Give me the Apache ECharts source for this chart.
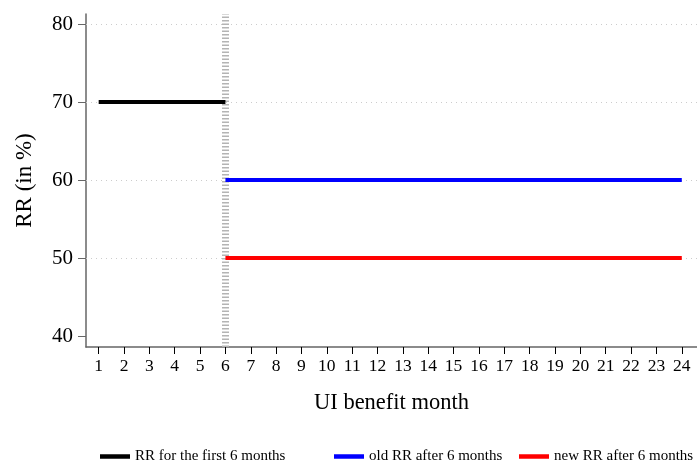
<!DOCTYPE html>
<html><head><meta charset="utf-8">
<script src="https://cdn.jsdelivr.net/npm/echarts@6/dist/echarts.min.js"></script>
<style>html,body{margin:0;padding:0;background:#fff}#c{width:697px;height:467px}</style>
</head><body><div id="c"></div>
<script>
const monthsFirst = [1,2,3,4,5,6];
const rrFirst = [70,70,70,70,70,70];
const monthsAfter = [6,7,8,9,10,11,12,13,14,15,16,17,18,19,20,21,22,23,24];
const rrOld = [60,60,60,60,60,60,60,60,60,60,60,60,60,60,60,60,60,60,60];
const rrNew = [50,50,50,50,50,50,50,50,50,50,50,50,50,50,50,50,50,50,50];
const xTicks = [1,2,3,4,5,6,7,8,9,10,11,12,13,14,15,16,17,18,19,20,21,22,23,24];
const yTicks = [40,50,60,70,80];
const gridVals = [50,60,70,80];
const cutoff = 6;

const font = '"Liberation Serif","DejaVu Serif",serif';
const pair = (xs, ys) => xs.map((x,i)=>[x, ys[i]]);
const legText = {fontFamily:font, fontSize:15, color:'#000'};
const legCommon = {top:449, padding:0, icon:'rect', itemWidth:30, itemHeight:4.5, itemGap:8, textStyle:legText};

const chart = echarts.init(document.getElementById('c'));
chart.setOption({
  animation:false,
  grid:{left:86, top:14, right:0, bottom:120},
  xAxis:{type:'value', min:0.5, max:24.6,
    name:'UI benefit month', nameLocation:'middle', nameGap:45,
    nameTextStyle:{fontFamily:font, fontSize:22.5, color:'#000'},
    axisLine:{show:true, onZero:false, lineStyle:{color:'#666', width:1.5}},
    axisTick:{show:true, length:7, customValues:xTicks, lineStyle:{color:'#000', width:1}},
    axisLabel:{customValues:xTicks, fontFamily:font, fontSize:17.5, color:'#000', margin:10},
    splitLine:{show:false}},
  yAxis:{type:'value', min:38.6, max:81.3,
    name:'RR (in %)', nameLocation:'middle', nameGap:50, nameRotate:90,
    nameTextStyle:{fontFamily:font, fontSize:23, color:'#000'},
    axisLine:{show:true, lineStyle:{color:'#666', width:1.5}},
    axisTick:{show:true, length:8, customValues:yTicks, lineStyle:{color:'#666', width:1}},
    axisLabel:{customValues:yTicks, fontFamily:font, fontSize:21, color:'#000', margin:13},
    splitLine:{show:false}},
  legend:[
    Object.assign({data:['RR for the first 6 months'], left:100}, legCommon),
    Object.assign({data:['old RR after 6 months'], left:334}, legCommon),
    Object.assign({data:['new RR after 6 months'], left:519}, legCommon)
  ],
  series:[
    {type:'line', name:'grid', data:[], silent:true,
     markLine:{silent:true, symbol:'none', label:{show:false},
       lineStyle:{color:'#cccccc', type:[1,4], width:1},
       data:gridVals.map(v=>({yAxis:v}))},
     z:1},
    {type:'line', name:'cut', data:[], silent:true,
     markLine:{silent:true, symbol:'none', label:{show:false},
       lineStyle:{color:'#b4b4b4', type:[1.5,2], width:7},
       data:[{xAxis:cutoff}]},
     z:2},
    {type:'line', name:'RR for the first 6 months', data:pair(monthsFirst, rrFirst),
     color:'#000', lineStyle:{width:4, color:'#000'}, symbol:'none', z:5},
    {type:'line', name:'old RR after 6 months', data:pair(monthsAfter, rrOld),
     color:'#0000ff', lineStyle:{width:4, color:'#0000ff'}, symbol:'none', z:5},
    {type:'line', name:'new RR after 6 months', data:pair(monthsAfter, rrNew),
     color:'#ff0000', lineStyle:{width:4, color:'#ff0000'}, symbol:'none', z:5}
  ]
});
</script></body></html>
